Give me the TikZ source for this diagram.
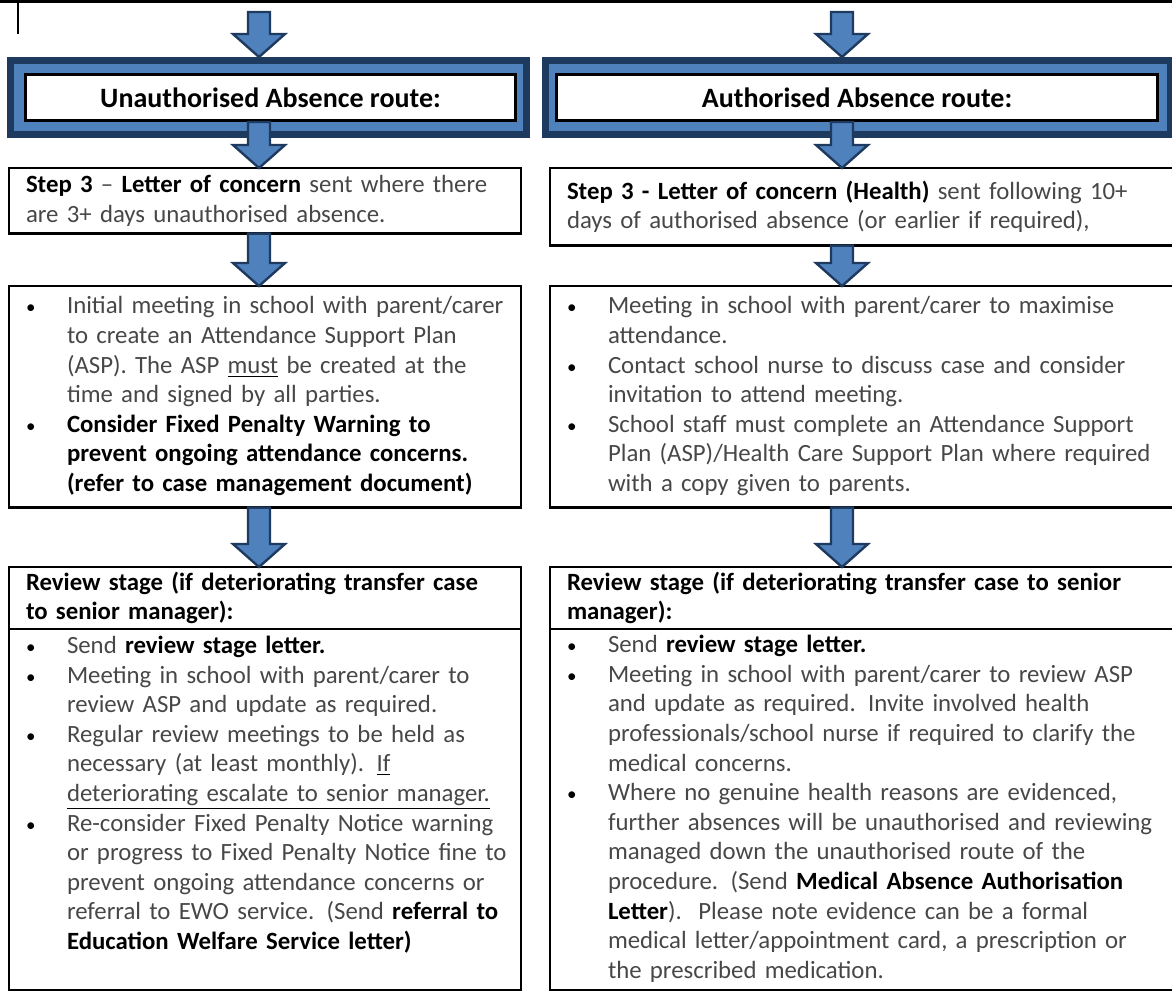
\documentclass[tikz,border=0pt]{standalone}
\usepackage{fontspec}
\setmainfont{Carlito}
\usetikzlibrary{calc}

\definecolor{navyline}{HTML}{1F3A5F}
\definecolor{officeblue}{HTML}{4F81BD}

\newcommand\bo[1]{\textbf{\color{black}#1}}
\newcommand\ul[1]{{\color{black}\underline{\color{black!72}#1}}}
\newcommand\bul{\makebox[20.5pt][l]{\color{black}\fontsize{9.5}{9.5}\selectfont\textbullet}}
\newenvironment{blist}{\begin{tabular}{@{}l@{}l@{}}}{\end{tabular}}
\newcommand\blockarrow[2]{%
  \path (#1) coordinate (ba-s) (#2) coordinate (ba-e);
  \filldraw[blockarr] ($(ba-s)+(-11,0)$) -- ($(ba-s)+(11,0)$) -- ($(ba-e)+(11,-23)$)
    -- ($(ba-e)+(26,-23)$) -- (ba-e) -- ($(ba-e)+(-26,-23)$) -- ($(ba-e)+(-11,-23)$) -- cycle;}

\tikzset{
  flowbox/.style={draw, line width=1.2pt, anchor=north west, outer sep=0pt,
    inner xsep=8.5pt, inner ysep=0.5pt, align=left, text=black!72,
    font=\fontsize{12.4}{14.8}\selectfont},
  hdr/.style={draw, fill=white, line width=1.5pt, minimum height=23pt,
    font=\fontsize{14}{16}\selectfont\bfseries},
  routeframe/.style={draw=navyline, fill=officeblue, line width=3.5pt, minimum height=37pt},
  blockarr/.style={draw=navyline, fill=officeblue, line width=1.2pt, line join=miter}
}

\begin{document}
\begin{tikzpicture}[x=0.5pt,y=-0.5pt]
    \useasboundingbox (0,0) rectangle (1172,994);
    \clip (0,0) rectangle (1172,994);
    \draw[line width=1.5pt] (0,2) -- (1172,2);
    \draw[line width=1.2pt] (18,2) -- (18,34);

    \node[routeframe, minimum width=258pt] (UF) at (268.5,97.5) {};
    \node[routeframe, minimum width=312.5pt] (AF) at (858,97.5) {};
    \node[hdr, minimum width=245pt] (UH) at (270.5,97.5) {Unauthorised Absence route:};
    \node[hdr, minimum width=300.5pt] (AH) at (857,97.5) {Authorised Absence route:};

    \node[flowbox, text width=239pt, minimum height=32.8pt] (SU) at (9,168)
      {\bo{Step 3} – \bo{Letter of concern} sent where there\\are 3+ days unauthorised absence.};
    \node[flowbox, text width=296pt, minimum height=38.8pt] (SA) at (550,168)
      {\bo{Step 3 - Letter of concern (Health)} sent following 10+\\days of authorised absence (or earlier if required),};

    \node[flowbox, text width=239pt, minimum height=110.8pt] (MU) at (9,286) {\begin{blist}
      \bul & Initial meeting in school with parent/carer\\
           & to create an Attendance Support Plan\\
           & (ASP). The ASP \ul{must} be created at the\\
           & time and signed by all parties.\\
      \bul & \bo{Consider Fixed Penalty Warning to}\\
           & \bo{prevent ongoing attendance concerns.}\\
           & \bo{(refer to case management document)}
      \end{blist}};
    \node[flowbox, text width=296pt, minimum height=110.8pt] (MA) at (550,286) {\begin{blist}
      \bul & Meeting in school with parent/carer to maximise\\
           & attendance.\\
      \bul & Contact school nurse to discuss case and consider\\
           & invitation to attend meeting.\\
      \bul & School staff must complete an Attendance Support\\
           & Plan (ASP)/Health Care Support Plan where required\\
           & with a copy given to parents.
      \end{blist}};

    \node[flowbox, text width=239pt, minimum height=31pt] (RHU) at (9,567)
      {\bo{Review stage (if deteriorating transfer case}\\\bo{to senior manager):}};
    \node[flowbox, text width=239pt, minimum height=180.5pt] (RU) at (RHU.south west) {\begin{blist}
      \bul & Send \bo{review stage letter.}\\
      \bul & Meeting in school with parent/carer to\\
           & review ASP and update as required.\\
      \bul & Regular review meetings to be held as\\
           & necessary (at least monthly). \ul{If}\\
           & \ul{deteriorating escalate to senior manager.}\\
      \bul & Re-consider Fixed Penalty Notice warning\\
           & or progress to Fixed Penalty Notice fine to\\
           & prevent ongoing attendance concerns or\\
           & referral to EWO service. (Send \bo{referral to}\\
           & \bo{Education Welfare Service letter)}\\[14pt]
      \end{blist}};
    \node[flowbox, text width=296pt, minimum height=31pt] (RHA) at (550,567)
      {\bo{Review stage (if deteriorating transfer case to senior}\\\bo{manager):}};
    \node[flowbox, text width=296pt, minimum height=180.5pt] (RA) at (RHA.south west) {\begin{blist}
      \bul & Send \bo{review stage letter.}\\
      \bul & Meeting in school with parent/carer to review ASP\\
           & and update as required. Invite involved health\\
           & professionals/school nurse if required to clarify the\\
           & medical concerns.\\
      \bul & Where no genuine health reasons are evidenced,\\
           & further absences will be unauthorised and reviewing\\
           & managed down the unauthorised route of the\\
           & procedure. (Send \bo{Medical Absence Authorisation}\\
           & \bo{Letter}).\ \ Please note evidence can be a formal\\
           & medical letter/appointment card, a prescription or\\
           & the prescribed medication.
      \end{blist}};

    \coordinate (colU) at (259,12);
    \coordinate (colA) at (842,12);
    \blockarrow{colU}{colU |- UF.north}
    \blockarrow{colU |- UH.south}{colU |- SU.north}
    \blockarrow{colU |- SU.south}{colU |- MU.north}
    \blockarrow{colU |- MU.south}{colU |- RHU.north}
    \blockarrow{colA}{colA |- AF.north}
    \blockarrow{colA |- AH.south}{colA |- SA.north}
    \blockarrow{colA |- SA.south}{colA |- MA.north}
    \blockarrow{colA |- MA.south}{colA |- RHA.north}
\end{tikzpicture}
\end{document}
